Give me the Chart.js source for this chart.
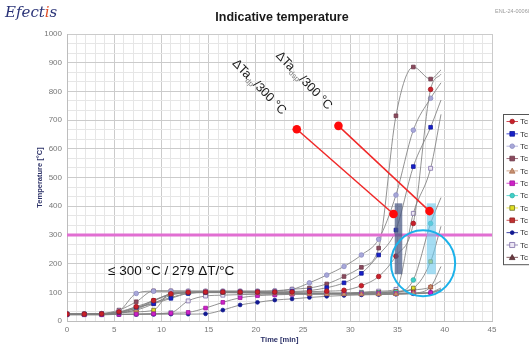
<!DOCTYPE html>
<html>
<head>
<meta charset="utf-8">
<script src="https://cdn.jsdelivr.net/npm/chart.js@4.4.1/dist/chart.umd.min.js"></script>
<style>
  html, body { margin: 0; padding: 0; background: #fff; overflow: hidden; }
  #wrap { position: relative; width: 529px; height: 347px; }
</style>
</head>
<body>
<div id="wrap"><canvas id="c" width="529" height="347"></canvas></div>
<script>
// Sample times [min]; the last entry is an unmarked tail sample
const times = [0, 1.83, 3.67, 5.5, 7.33, 9.17, 11, 12.83, 14.67, 16.5, 18.33, 20.17, 22, 23.83, 25.67, 27.5, 29.33, 31.17, 33, 34.83, 36.67, 38.5, 39.6];
const markedSamples = 22;

// Temperatures [°C] per thermocouple
const tc1  = [24, 24, 25, 32, 50, 71, 95, 100, 101, 101, 101, 101, 101, 101, 102, 104, 107, 123, 155, 226, 340, 807, 860];
const tc2  = [24, 24, 25, 30, 48, 60, 79, 96, 100, 101, 101, 101, 101, 103, 106, 116, 133, 166, 230, 317, 538, 675, 770];
const tc3  = [24, 24, 26, 35, 96, 104, 104, 104, 104, 104, 104, 104, 105, 110, 133, 160, 190, 230, 285, 439, 665, 776, 830];
const tc4  = [24, 24, 26, 38, 67, 105, 105, 104, 104, 104, 104, 104, 105, 111, 115, 129, 155, 187, 254, 715, 885, 843, 875];
const tc5  = [24, 24, 25, 28, 38, 60, 90, 98, 99, 99, 98, 97, 96, 95, 94, 94, 93, 93, 93, 94, 97, 119, 190];
const tc6  = [22, 22, 22, 23, 24, 25, 27, 30, 45, 65, 81, 88, 91, 93, 94, 95, 95, 95, 96, 96, 97, 99, 110];
const tc7  = [24, 24, 25, 30, 44, 64, 82, 97, 100, 100, 100, 99, 98, 97, 96, 96, 96, 97, 98, 100, 143, 340, 430];
const tc8  = [24, 24, 25, 28, 32, 38, 99, 100, 100, 100, 100, 99, 98, 97, 96, 96, 96, 97, 98, 102, 115, 207, 330];
const tc9  = [24, 24, 25, 30, 45, 72, 94, 99, 100, 100, 100, 99, 99, 98, 97, 97, 97, 98, 100, 103, 108, 118, 140];
const tc10 = [22, 22, 22, 23, 23, 23, 24, 24, 25, 38, 56, 65, 73, 77, 82, 86, 89, 91, 92, 93, 95, 98, 108];
const tc11 = [22, 22, 22, 23, 24, 26, 29, 70, 87, 90, 92, 93, 93, 94, 94, 95, 96, 100, 104, 110, 375, 532, 720];
const tc12 = [24, 24, 25, 28, 40, 70, 92, 98, 99, 99, 99, 98, 97, 96, 95, 94, 94, 94, 94, 95, 96, 100, 115];

const seriesNames = ['Tc 1', 'Tc 2', 'Tc 3', 'Tc 4', 'Tc 5', 'Tc 6', 'Tc 7', 'Tc 8', 'Tc 9', 'Tc 10', 'Tc 11', 'Tc 12'];
const seriesValues = [tc1, tc2, tc3, tc4, tc5, tc6, tc7, tc8, tc9, tc10, tc11, tc12];

// Marker styling per thermocouple
const markerStyles = [
  { shape: 'circle',   fill: '#c8202a', edge: '#a01820', r: 2.3 },
  { shape: 'rect',     fill: '#1820c8', edge: '#10189a', r: 2.6 },
  { shape: 'circle',   fill: '#a8a8d8', edge: '#8c8cc4', r: 2.3 },
  { shape: 'rect',     fill: '#8a4a5e', edge: '#6e3a4a', r: 2.6 },
  { shape: 'triangle', fill: '#c89070', edge: '#a87050', r: 2.8 },
  { shape: 'rect',     fill: '#d020c8', edge: '#a018a0', r: 2.6 },
  { shape: 'circle',   fill: '#40d0c8', edge: '#30b0a8', r: 2.3 },
  { shape: 'rect',     fill: '#e0e020', edge: '#707030', r: 2.6 },
  { shape: 'rect',     fill: '#c03030', edge: '#902020', r: 2.6 },
  { shape: 'circle',   fill: '#101890', edge: '#101890', r: 1.9 },
  { shape: 'rect',     fill: '#ece6f4', edge: '#8070a8', r: 2.8 },
  { shape: 'triangle', fill: '#6a3a40', edge: '#502a30', r: 2.8 }
];

// Reference level and highlighted regions (data units)
const limitTemp = 300;
const limitLabel = '\u2264 300 \u00B0C / 279 \u0394T/\u00B0C';
const bandDark  = { t0: 34.7, t1: 35.5,  T0: 163, T1: 410 };
const bandLight = { t0: 38.1, t1: 39.05, T0: 163, T1: 410 };
const ring = { t: 37.7, T: 201, rt: 3.4, rT: 115 };
const pointers = [
  { from: [24.33, 668], to: [34.57, 373], sub: 'dp',  text: [17.7, 905] },
  { from: [28.74, 680], to: [38.38, 383], sub: 'dsp', text: [22.3, 932] }
];

const isMajorY = v => Math.abs(v / 100 - Math.round(v / 100)) < 1e-6;
const isMajorX = v => Math.abs(v / 5 - Math.round(v / 5)) < 1e-6;

const datasets = seriesValues.map((vals, i) => ({
  label: seriesNames[i],
  data: vals.map((v, k) => ({ x: times[k], y: v })),
  borderColor: 'rgba(128,128,128,0.85)',
  borderWidth: 1,
  cubicInterpolationMode: 'monotone',
  pointStyle: markerStyles[i].shape,
  pointRadius: ctx => ctx.dataIndex < markedSamples ? markerStyles[i].r : 0,
  pointBackgroundColor: markerStyles[i].fill,
  pointBorderColor: markerStyles[i].edge,
  pointBorderWidth: 0.8,
  pointHoverRadius: 0
}));

function drawMarker(ctx, st, x, y) {
  ctx.save();
  ctx.fillStyle = st.fill;
  ctx.strokeStyle = st.edge;
  ctx.lineWidth = 0.8;
  ctx.beginPath();
  const r = st.r;
  if (st.shape === 'circle') {
    ctx.arc(x, y, r, 0, Math.PI * 2);
  } else if (st.shape === 'rect') {
    ctx.rect(x - r * 0.9, y - r * 0.9, r * 1.8, r * 1.8);
  } else {
    ctx.moveTo(x, y - r);
    ctx.lineTo(x + r, y + r * 0.8);
    ctx.lineTo(x - r, y + r * 0.8);
    ctx.closePath();
  }
  ctx.fill();
  ctx.stroke();
  ctx.restore();
}

const overlayPlugin = {
  id: 'overlay',
  afterDatasetsDraw(chart) {
    const { ctx, chartArea: a, scales: { x, y } } = chart;
    ctx.save();
    ctx.beginPath();
    ctx.rect(a.left, a.top, a.right - a.left, a.bottom - a.top);
    ctx.clip();

    // limit line
    const yl = y.getPixelForValue(limitTemp);
    ctx.strokeStyle = '#e16fd2';
    ctx.lineWidth = 3;
    ctx.beginPath();
    ctx.moveTo(a.left, yl);
    ctx.lineTo(a.right, yl);
    ctx.stroke();

    // highlighted bands
    const band = (b, col) => {
      const x0 = x.getPixelForValue(b.t0), x1 = x.getPixelForValue(b.t1);
      const y0 = y.getPixelForValue(b.T1), y1 = y.getPixelForValue(b.T0);
      ctx.fillStyle = col;
      ctx.fillRect(x0, y0, x1 - x0, y1 - y0);
    };
    band(bandDark, 'rgba(72,88,130,0.72)');
    band(bandLight, 'rgba(110,200,235,0.62)');

    // ring
    const cx = x.getPixelForValue(ring.t), cy = y.getPixelForValue(ring.T);
    const rx = x.getPixelForValue(ring.t + ring.rt) - cx;
    const ry = cy - y.getPixelForValue(ring.T + ring.rT);
    ctx.strokeStyle = '#1cb2ea';
    ctx.lineWidth = 2;
    ctx.beginPath();
    ctx.ellipse(cx, cy, rx, ry, 0, 0, Math.PI * 2);
    ctx.stroke();

    // pointers
    pointers.forEach(p => {
      const xa = x.getPixelForValue(p.from[0]), ya = y.getPixelForValue(p.from[1]);
      const xb = x.getPixelForValue(p.to[0]), yb = y.getPixelForValue(p.to[1]);
      ctx.strokeStyle = '#f02828';
      ctx.lineWidth = 1.5;
      ctx.beginPath();
      ctx.moveTo(xa, ya);
      ctx.lineTo(xb, yb);
      ctx.stroke();
      ctx.fillStyle = '#ff0a0a';
      [[xa, ya], [xb, yb]].forEach(([px, py]) => {
        ctx.beginPath();
        ctx.arc(px, py, 4.3, 0, Math.PI * 2);
        ctx.fill();
      });
    });
    ctx.restore();

    // limit label
    ctx.save();
    ctx.fillStyle = '#111';
    ctx.font = '13.5px "Liberation Sans", Arial, sans-serif';
    ctx.textBaseline = 'middle';
    ctx.fillText(limitLabel, x.getPixelForValue(4.35), y.getPixelForValue(174));
    ctx.restore();

    // rotated pointer captions
    pointers.forEach(p => {
      ctx.save();
      ctx.translate(x.getPixelForValue(p.text[0]), y.getPixelForValue(p.text[1]));
      ctx.rotate(Math.PI / 4 * 1.02);
      ctx.textBaseline = 'middle';
      ctx.fillStyle = '#1a1a1a';
      ctx.font = '12.5px "Liberation Sans", Arial, sans-serif';
      ctx.fillText('\u0394Ta', 0, 0);
      let w = ctx.measureText('\u0394Ta').width;
      ctx.font = '7.5px "Liberation Sans", Arial, sans-serif';
      ctx.fillStyle = '#777';
      ctx.fillText(p.sub, w, 4);
      w += ctx.measureText(p.sub).width;
      ctx.font = '12.5px "Liberation Sans", Arial, sans-serif';
      ctx.fillStyle = '#1a1a1a';
      ctx.fillText('/300 \u00B0C', w, 0);
      ctx.restore();
    });
  },
  afterDraw(chart) {
    const { ctx, chartArea: a } = chart;
    ctx.save();
    // title
    ctx.fillStyle = '#1a1a1a';
    ctx.font = 'bold 12.5px "Liberation Sans", Arial, sans-serif';
    ctx.textAlign = 'center';
    ctx.textBaseline = 'middle';
    ctx.fillText('Indicative temperature', 282, 18);

    // axis titles
    ctx.fillStyle = '#2a2f66';
    ctx.font = 'bold 7.5px "Liberation Sans", Arial, sans-serif';
    ctx.fillText('Time [min]', (a.left + a.right) / 2, 340);
    ctx.save();
    ctx.translate(40, (a.top + a.bottom) / 2);
    ctx.rotate(-Math.PI / 2);
    ctx.fillText('Temperature [\u00B0C]', 0, 0);
    ctx.restore();

    // logo
    ctx.textAlign = 'left';
    ctx.textBaseline = 'alphabetic';
    ctx.font = 'italic 15px "DejaVu Serif", serif';
    ctx.fillStyle = '#2b3478';
    ctx.fillText('Efect', 5, 17);
    let lw = ctx.measureText('Efect').width;
    ctx.fillStyle = '#e0502a';
    ctx.fillText('i', 5 + lw, 17);
    lw += ctx.measureText('i').width;
    ctx.fillStyle = '#2b3478';
    ctx.fillText('s', 5 + lw, 17);

    // document reference
    ctx.fillStyle = '#9a9a9a';
    ctx.font = '5.5px "Liberation Sans", Arial, sans-serif';
    ctx.fillText('ENL-24-000605', 495, 13);

    // legend
    const lx = 503.5, ly = 114.5, rowH = 12.35;
    const lh = rowH * seriesNames.length + 2;
    ctx.fillStyle = '#fff';
    ctx.fillRect(lx, ly, 60, lh);
    ctx.strokeStyle = '#555';
    ctx.lineWidth = 1;
    ctx.strokeRect(lx, ly, 60, lh);
    seriesNames.forEach((name, i) => {
      const cy = ly + 7 + i * rowH;
      const st = markerStyles[i];
      ctx.strokeStyle = st.fill === '#ece6f4' ? st.edge : st.fill;
      ctx.globalAlpha = 0.8;
      ctx.lineWidth = 1;
      ctx.beginPath();
      ctx.moveTo(506.5, cy);
      ctx.lineTo(518, cy);
      ctx.stroke();
      ctx.globalAlpha = 1;
      drawMarker(ctx, st, 512.2, cy);
      ctx.fillStyle = '#333';
      ctx.font = '8px "Liberation Sans", Arial, sans-serif';
      ctx.textBaseline = 'middle';
      ctx.fillText(name, 520, cy + 0.5);
    });
    ctx.restore();
  }
};

new Chart(document.getElementById('c'), {
  type: 'line',
  data: { datasets },
  plugins: [overlayPlugin],
  options: {
    responsive: false,
    animation: false,
    devicePixelRatio: 1,
    layout: { padding: { left: 0, top: 34, right: 37, bottom: 0 } },
    plugins: { legend: { display: false }, title: { display: false }, tooltip: { enabled: false } },
    elements: { line: { tension: 0.4 } },
    scales: {
      x: {
        type: 'linear', min: 0, max: 45,
        afterFit: s => { s.height = 26; },
        ticks: {
          count: 46, autoSkip: false, maxRotation: 0, padding: 4,
          color: '#777', font: { size: 8, family: '"Liberation Sans", Arial, sans-serif' },
          callback: v => isMajorX(v) ? String(Math.round(v)) : ''
        },
        grid: { drawTicks: false, color: c => isMajorX(c.tick.value) ? '#cbcbcb' : '#e6e6e6', lineWidth: 1 },
        border: { display: true, color: '#bdbdbd' }
      },
      y: {
        type: 'linear', min: 0, max: 1000,
        afterFit: s => { s.width = 67; },
        ticks: {
          count: 31, autoSkip: false, padding: 5,
          color: '#777', font: { size: 8, family: '"Liberation Sans", Arial, sans-serif' },
          callback: v => isMajorY(v) ? String(Math.round(v)) : ''
        },
        grid: { drawTicks: false, color: c => isMajorY(c.tick.value) ? '#cbcbcb' : '#e6e6e6', lineWidth: 1 },
        border: { display: true, color: '#bdbdbd' }
      }
    }
  }
});
</script>
</body>
</html>
